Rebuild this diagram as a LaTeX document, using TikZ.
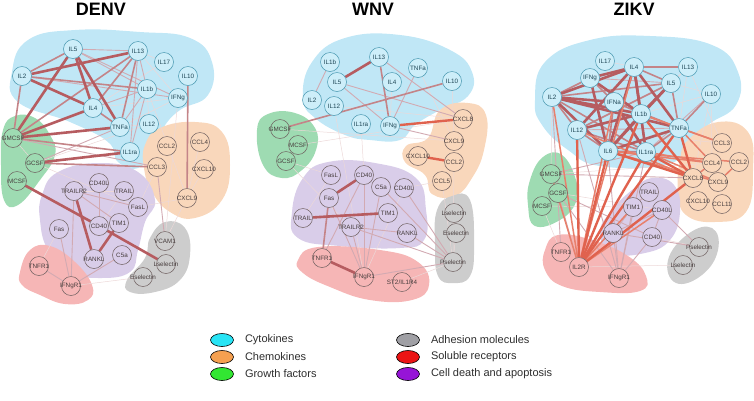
\documentclass[tikz,border=0pt]{standalone}
\usepackage{fontspec}
\setmainfont{Liberation Sans}
\usetikzlibrary{positioning,shapes.geometric}

\definecolor{cytbg}{RGB}{192,231,246}
\definecolor{chebg}{RGB}{249,215,187}
\definecolor{grwbg}{RGB}{158,219,178}
\definecolor{adhbg}{RGB}{205,205,205}
\definecolor{solbg}{RGB}{246,182,182}
\definecolor{apobg}{RGB}{217,205,233}
\definecolor{cytnode}{RGB}{205,238,249}
\definecolor{cytline}{RGB}{70,150,175}
\definecolor{cyttext}{RGB}{30,70,85}
\definecolor{molline}{RGB}{110,95,95}
\definecolor{moltext}{RGB}{70,60,60}
\definecolor{lk1}{RGB}{236,216,216}
\definecolor{lk2}{RGB}{210,170,178}
\definecolor{lk3}{RGB}{196,132,136}
\definecolor{lk4}{RGB}{182,92,96}
\definecolor{lko3}{RGB}{232,128,108}
\definecolor{lko4}{RGB}{224,98,78}
\definecolor{legcyt}{RGB}{40,228,245}
\definecolor{legche}{RGB}{245,160,80}
\definecolor{leggrw}{RGB}{50,230,50}
\definecolor{legadh}{RGB}{160,160,165}
\definecolor{legsol}{RGB}{235,20,20}
\definecolor{legapo}{RGB}{150,20,215}
\definecolor{legtxt}{RGB}{45,45,45}

\pgfdeclarelayer{blobs}
\pgfdeclarelayer{links}
\pgfsetlayers{blobs,links,main}

\begin{document}
\begin{tikzpicture}[x=1pt, y=-1pt,
    cyt/.style={circle, draw=cytline, fill=cytnode, line width=0.5pt, minimum size=19pt, inner sep=0pt, font=\fontsize{6.3}{6.3}\selectfont, text=cyttext},
    mol/.style={circle, draw=molline, line width=0.5pt, minimum size=19pt, inner sep=0pt, font=\fontsize{6.3}{6.3}\selectfont, text=moltext},
    e1/.style={line width=0.5pt, draw=lk1},
    e2/.style={line width=0.9pt, draw=lk2},
    e3/.style={line width=1.6pt, draw=lk3},
    e4/.style={line width=2.6pt, draw=lk4},
    o3/.style={line width=1.5pt, draw=lko3},
    o4/.style={line width=2.4pt, draw=lko4},
    blob/.style={smooth cycle, tension=0.75},
    title/.style={font=\bfseries\fontsize{18}{18}\selectfont},
    legdot/.style={ellipse, draw=black, line width=0.6pt, minimum width=23pt, minimum height=13pt, inner sep=0pt},
    legtext/.style={font=\fontsize{11}{11}\selectfont, text=legtxt, inner sep=0pt}]
    \useasboundingbox (0,0) rectangle (754,400);

    \node[title] (tDENV) at (101,9) {DENV};
    \node[title] (tWNV) at (373,9) {WNV};
    \node[title] (tZIKV) at (634,9) {ZIKV};

    % DENV
    \foreach \n/\x/\y/\t in {dIL5/73/49/IL5, dIL13/138/51/IL13, dIL17/164/62/IL17, dIL2/22/76/IL2, dIL10/188/76/IL10, dIL1b/147/89/IL1b, dIFNg/178/98/IFNg, dIL4/93/108/IL4, dTNFa/120/127/TNFa, dIL12/149/124/IL12, dIL1ra/130/152/IL1ra}
        \node[cyt] (\n) at (\x,\y) {\makebox[0pt]{\t}};
    \foreach \n/\x/\y/\t in {dGMCSF/13/138/GMCSF, dGCSF/35/163/GCSF, dMCSF/17/181/MCSF}
        \node[mol, fill=grwbg] (\n) at (\x,\y) {\makebox[0pt]{\t}};
    \foreach \n/\x/\y/\t in {dCCL2/167/146/CCL2, dCCL4/200/142/CCL4, dCCL3/157/167/CCL3, dCXCL10/204/169/CXCL10, dCXCL9/187/198/CXCL9}
        \node[mol, fill=chebg] (\n) at (\x,\y) {\makebox[0pt]{\t}};
    \foreach \n/\x/\y/\t in {dTRAILR2/74/191/TRAILR2, dCD40L/99/183/CD40L, dTRAIL/124/191/TRAIL, dFasL/138/207/FasL, dFas/59/229/Fas, dCD40/99/226/CD40, dTIM1/119/223/TIM1, dRANKL/94/259/RANKL, dC5a/122/255/C5a}
        \node[mol, fill=apobg] (\n) at (\x,\y) {\makebox[0pt]{\t}};
    \foreach \n/\x/\y/\t in {dVCAM1/165/241/VCAM1, dLsel/166/264/Lselectin, dEsel/143/277/Eselectin}
        \node[mol, fill=adhbg] (\n) at (\x,\y) {\makebox[0pt]{\t}};
    \foreach \n/\x/\y/\t in {dTNFR1/39/266/TNFR1, dIFNgR1/71/286/IFNgR1}
        \node[mol, fill=solbg] (\n) at (\x,\y) {\makebox[0pt]{\t}};

    % WNV
    \foreach \n/\x/\y/\t in {wIL1b/330/62/IL1b, wIL13/379/57/IL13, wTNFa/418/68/TNFa, wIL5/337/82/IL5, wIL4/392/82/IL4, wIL10/452/81/IL10, wIL2/312/100/IL2, wIL12/334/106/IL12, wIL1ra/361/124/IL1ra, wIFNg/390/126/IFNg}
        \node[cyt] (\n) at (\x,\y) {\makebox[0pt]{\t}};
    \foreach \n/\x/\y/\t in {wGMCSF/280/129/GMCSF, wMCSF/298/145/MCSF, wGCSF/286/161/GCSF}
        \node[mol, fill=grwbg] (\n) at (\x,\y) {\makebox[0pt]{\t}};
    \foreach \n/\x/\y/\t in {wCXCL8/463/119/CXCL8, wCXCL9/454/141/CXCL9, wCXCL10/418/156/CXCL10, wCCL2/454/162/CCL2, wCCL5/442/181/CCL5}
        \node[mol, fill=chebg] (\n) at (\x,\y) {\makebox[0pt]{\t}};
    \foreach \n/\x/\y/\t in {wFasL/331/175/FasL, wCD40/364/175/CD40, wC5a/381/187/C5a, wCD40L/404/188/CD40L, wFas/329/198/Fas, wTIM1/388/213/TIM1, wTRAIL/303/218/TRAIL, wTRAILR2/351/227/TRAILR2, wRANKL/407/233/RANKL}
        \node[mol, fill=apobg] (\n) at (\x,\y) {\makebox[0pt]{\t}};
    \foreach \n/\x/\y/\t in {wLsel/454/213/Lselectin, wEsel/456/233/Eselectin, wPsel/453/262/Pselectin}
        \node[mol, fill=adhbg] (\n) at (\x,\y) {\makebox[0pt]{\t}};
    \foreach \n/\x/\y/\t in {wTNFR1/322/258/TNFR1, wIFNgR1/364/277/IFNgR1}
        \node[mol, fill=solbg] (\n) at (\x,\y) {\makebox[0pt]{\t}};
    \node[mol, fill=solbg] (wST2) at (402,282) {\makebox[0pt]{ST2/IL1R4}};

    % ZIKV
    \foreach \n/\x/\y/\t in {zIL17/605/61/IL17, zIL4/634/67/IL4, zIL13/688/67/IL13, zIFNg/590/78/IFNg, zIL5/671/83/IL5, zIL2/552/97/IL2, zIL10/711/94/IL10, zIFNa/614/102/IFNa, zIL1b/641/114/IL1b, zTNFa/679/128/TNFa, zIL12/577/130/IL12, zIL6/608/151/IL6, zIL1ra/646/152/IL1ra}
        \node[cyt] (\n) at (\x,\y) {\makebox[0pt]{\t}};
    \foreach \n/\x/\y/\t in {zCCL3/722/143/CCL3, zCCL4/712/163/CCL4, zCCL2/739/162/CCL2, zCXCL8/693/178/CXCL8, zCXCL9/718/182/CXCL9, zCXCL10/698/201/CXCL10, zCCL11/722/204/CCL11}
        \node[mol, fill=chebg] (\n) at (\x,\y) {\makebox[0pt]{\t}};
    \foreach \n/\x/\y/\t in {zGMCSF/551/174/GMCSF, zGCSF/558/193/GCSF, zMCSF/542/206/MCSF}
        \node[mol, fill=grwbg] (\n) at (\x,\y) {\makebox[0pt]{\t}};
    \foreach \n/\x/\y/\t in {zTRAIL/649/192/TRAIL, zTIM1/633/207/TIM1, zCD40L/662/210/CD40L, zRANKL/613/233/RANKL, zCD40/652/237/CD40}
        \node[mol, fill=apobg] (\n) at (\x,\y) {\makebox[0pt]{\t}};
    \foreach \n/\x/\y/\t in {zPsel/699/247/Pselectin, zLsel/683/265/Lselectin}
        \node[mol, fill=adhbg] (\n) at (\x,\y) {\makebox[0pt]{\t}};
    \foreach \n/\x/\y/\t in {zTNFR1/561/252/TNFR1, zIL2R/579/267/IL2R, zIFNgR1/619/278/IFNgR1}
        \node[mol, fill=solbg] (\n) at (\x,\y) {\makebox[0pt]{\t}};

    \begin{pgfonlayer}{blobs}
        % DENV
        \fill[cytbg] plot[blob] coordinates {(12,72) (28,40) (75,30) (140,32) (190,38) (212,62) (208,95) (180,110) (163,128) (152,150) (138,168) (118,162) (108,142) (70,122) (18,102)};
        \fill[chebg] plot[blob] coordinates {(145,145) (160,128) (195,122) (222,132) (230,165) (222,200) (195,218) (170,212) (152,192) (144,168)};
        \fill[grwbg] plot[blob] coordinates {(3,130) (15,116) (35,118) (50,135) (55,155) (40,180) (18,205) (4,200) (1,165)};
        \fill[apobg] plot[blob] coordinates {(42,195) (58,172) (100,163) (138,172) (155,200) (145,222) (138,250) (130,272) (100,278) (70,272) (48,250) (40,220)};
        \fill[adhbg] plot[blob] coordinates {(127,280) (145,258) (150,238) (165,222) (185,228) (190,255) (180,280) (155,292) (130,292)};
        \fill[solbg] plot[blob] coordinates {(20,272) (30,250) (50,246) (75,262) (92,285) (88,300) (65,304) (40,295) (22,285)};
        % WNV
        \fill[cytbg] plot[blob] coordinates {(303,98) (312,62) (345,38) (400,35) (450,50) (472,72) (468,96) (440,110) (415,125) (400,140) (370,140) (345,135) (315,118)};
        \fill[chebg] plot[blob] coordinates {(440,110) (468,103) (486,115) (484,150) (472,178) (455,196) (432,194) (425,175) (405,162) (406,146) (428,138)};
        \fill[grwbg] plot[blob] coordinates {(257,130) (268,114) (295,113) (315,128) (316,150) (302,170) (282,178) (263,165)};
        \fill[apobg] plot[blob] coordinates {(292,212) (303,178) (328,162) (375,163) (416,178) (426,210) (424,240) (400,248) (340,246) (298,238)};
        \fill[adhbg] plot[blob] coordinates {(437,210) (452,196) (470,200) (474,245) (470,276) (453,283) (438,276) (435,245)};
        \fill[solbg] plot[blob] coordinates {(298,260) (318,247) (380,250) (418,262) (429,285) (412,300) (370,300) (330,287) (303,273)};
        % ZIKV
        \fill[cytbg] plot[blob] coordinates {(535,100) (545,62) (590,40) (650,36) (712,45) (738,72) (736,105) (708,125) (692,145) (665,165) (600,166) (568,150) (542,125)};
        \fill[chebg] plot[blob] coordinates {(688,140) (718,122) (748,132) (753,170) (746,212) (715,222) (686,215) (678,192) (680,160)};
        \fill[grwbg] plot[blob] coordinates {(530,180) (543,157) (562,155) (576,180) (576,202) (560,220) (535,226) (528,205)};
        \fill[apobg] plot[blob] coordinates {(600,232) (612,210) (632,190) (652,178) (674,185) (680,212) (670,240) (645,253) (612,253)};
        \fill[adhbg] plot[blob] coordinates {(668,260) (688,234) (712,228) (718,250) (702,275) (676,283)};
        \fill[solbg] plot[blob] coordinates {(545,250) (558,235) (592,240) (628,256) (646,276) (640,291) (600,292) (562,286) (545,270)};
    \end{pgfonlayer}

    \begin{pgfonlayer}{links}
        % DENV
        \foreach \a/\b in {dIL13/dIL17, dIL13/dIFNg, dIL4/dIFNg, dTNFa/dIFNg, dIL12/dIL1b, dGMCSF/dIL12, dGCSF/dIL12, dIL1b/dCXCL9, dIFNg/dVCAM1, dCXCL9/dVCAM1, dCXCL10/dCXCL9, dCCL4/dCXCL9, dTRAIL/dCD40, dFasL/dCXCL9, dIFNgR1/dEsel, dFas/dTNFR1, dTRAIL/dTRAILR2, dIL17/dIL4, dGMCSF/dGCSF, dGCSF/dFasL, dCCL3/dFasL}
            \draw[e1] (\a) -- (\b);
        \foreach \a/\b in {dIL5/dIL13, dIL5/dIL1b, dIL13/dIL1b, dIL13/dIL1ra, dIL2/dIFNg, dIL4/dIL1b, dTNFa/dIL1b, dTRAILR2/dFasL, dCD40L/dCD40, dGCSF/dTNFa, dIL1b/dIL1ra, dIL5/dIFNg, dTRAILR2/dTIM1, dTRAILR2/dIFNgR1, dFas/dIFNgR1, dC5a/dIFNgR1, dTNFR1/dIFNgR1, dCCL3/dVCAM1, dGMCSF/dCCL3}
            \draw[e2] (\a) -- (\b);
        \foreach \a/\b in {dIL5/dIL2, dIL13/dGMCSF, dIL13/dIL4, dIL2/dIL1b, dIL2/dGMCSF, dIL13/dTNFa, dGMCSF/dIL1ra, dGCSF/dCCL3, dIL10/dCXCL9, dIL4/dTNFa}
            \draw[e3] (\a) -- (\b);
        \foreach \a/\b in {dIL5/dIL4, dIL5/dTNFa, dIL5/dGMCSF, dIL13/dIL2, dIL2/dIL4, dIL4/dGMCSF, dTNFa/dGMCSF, dGCSF/dIL1ra, dMCSF/dCD40, dCD40/dLsel, dTRAILR2/dRANKL, dRANKL/dTIM1}
            \draw[e4] (\a) -- (\b);
        % WNV
        \foreach \a/\b in {wIL4/wIFNg, wTNFa/wCXCL9, wGMCSF/wCXCL9, wMCSF/wCXCL8, wGCSF/wFasL, wTRAIL/wFasL, wEsel/wPsel, wLsel/wEsel, wCCL5/wCD40L, wCCL5/wPsel, wIL12/wIFNgR1, wIL1ra/wCD40, wGCSF/wTRAILR2, wST2/wPsel, wIL12/wCXCL8, wCD40L/wIFNgR1, wCCL2/wPsel, wIL10/wCXCL9}
            \draw[e1] (\a) -- (\b);
        \foreach \a/\b in {wIL13/wCXCL8, wIL5/wIFNg, wIL5/wCXCL8, wCD40/wIFNgR1, wC5a/wPsel, wCD40L/wPsel, wTRAILR2/wPsel, wC5a/wIFNgR1, wTRAILR2/wIFNgR1, wCD40/wTNFR1, wFas/wIFNgR1, wIFNg/wCXCL9, wIL1b/wIL2, wTNFa/wIFNg, wIFNgR1/wPsel, wRANKL/wPsel, wTRAILR2/wRANKL}
            \draw[e2] (\a) -- (\b);
        \foreach \a/\b in {wIL10/wGMCSF, wFas/wTNFR1, wIL13/wIFNg}
            \draw[e3] (\a) -- (\b);
        \foreach \a/\b in {wIL5/wIL13, wTRAIL/wTIM1, wTNFR1/wIFNgR1, wFas/wCD40}
            \draw[e4] (\a) -- (\b);
        \foreach \a/\b in {wCXCL10/wCCL2, wIFNg/wCXCL8}
            \draw[o4] (\a) -- (\b);
        % ZIKV
        \foreach \a/\b in {zIL17/zIL4, zIL13/zIL5, zIL10/zIL5, zIL10/zCXCL8, zIL13/zCCL3, zIL10/zCCL4, zCXCL10/zCXCL8, zCCL11/zCXCL9, zGMCSF/zCCL4, zMCSF/zTIM1, zIL2R/zLsel, zCD40/zPsel, zIL17/zIFNa, zIL13/zTNFa, zIL10/zIL1b, zGCSF/zCD40L, zMCSF/zTNFR1, zIL17/zIL1b, zIL13/zIL1b, zGMCSF/zIL2, zIL12/zCCL3}
            \draw[e1] (\a) -- (\b);
        \foreach \a/\b in {zGMCSF/zIL1ra, zGMCSF/zCXCL8, zGCSF/zCD40, zRANKL/zPsel, zCD40L/zPsel, zRANKL/zIFNgR1, zCD40/zIFNgR1, zTIM1/zIFNgR1, zTRAIL/zTIM1, zTIM1/zRANKL, zCD40L/zRANKL, zCD40L/zCD40, zIL12/zIFNgR1, zIL2/zTNFR1, zIL6/zIFNgR1, zIL1ra/zIFNgR1, zGCSF/zIL2R, zGCSF/zIFNgR1, zIL10/zIL1ra, zIFNg/zIL5, zIL12/zTNFa, zIFNa/zIL1b}
            \draw[e2] (\a) -- (\b);
        \foreach \a/\b in {zIL2/zIFNg, zIL2/zIL12, zIL2/zIL5, zIL4/zIL5, zIFNa/zTNFa, zIL1b/zTNFa, zIL5/zTNFa, zIL10/zTNFa, zIL4/zIL13, zIL12/zIL6, zIFNa/zIL6, zIL1b/zIL1ra, zTNFa/zIL1ra, zIL5/zIL12, zIL6/zIL1ra, zIL2/zIL1ra, zIFNg/zIFNa, zIL12/zIL1ra}
            \draw[e3] (\a) -- (\b);
        \foreach \a/\b in {zIL2/zIL4, zIL2/zIFNa, zIL2/zIL1b, zIL2/zTNFa, zIL4/zIL1b, zIL4/zIL6, zIL4/zTNFa, zIFNg/zIL4, zIFNg/zIL1b, zIL5/zIL6, zIL1b/zIL6, zIFNa/zIL1ra, zIL12/zIL1b, zIL4/zIL12, zIL5/zIL1b, zTNFa/zIL6, zIL2/zIL6, zIL4/zIL1ra, zIFNg/zIL6}
            \draw[e4] (\a) -- (\b);
        \foreach \a/\b in {zIL6/zCCL4, zIL1ra/zCCL4, zTNFa/zCCL4, zIL1b/zCCL3, zTNFa/zCCL3, zIL1ra/zCXCL9, zIL6/zCXCL9, zIL2R/zCD40L, zIL2R/zGMCSF, zCCL2/zCXCL9, zIL2R/zTIM1, zIL2R/zIFNa, zIL2R/zIL4, zIL6/zCCL2, zCXCL8/zCCL4, zIL12/zCXCL8, zIL2/zIL2R}
            \draw[o3] (\a) -- (\b);
        \foreach \a/\b in {zIL6/zCXCL8, zIL1ra/zCXCL8, zTNFa/zCXCL8, zIL1b/zCXCL8, zIL2R/zIL6, zIL2R/zIL1ra, zIL2R/zCXCL8, zIL2R/zIL1b, zIL2R/zTNFa, zIL2R/zIL12}
            \draw[o4] (\a) -- (\b);
    \end{pgfonlayer}

    % legend
    \foreach \n/\c/\x/\y/\t in {lCyt/legcyt/222/340/Cytokines, lChe/legche/222/357/Chemokines, lGrw/leggrw/222/374/Growth factors, lAdh/legadh/408/340/Adhesion molecules, lSol/legsol/408/357/Soluble receptors, lApo/legapo/408/374/Cell death and apoptosis}
    {
        \node[legdot, fill=\c] (\n) at (\x,\y) {};
        \node[legtext, right=11pt of \n] (\n-txt) {\t};
    }
\end{tikzpicture}
\end{document}
